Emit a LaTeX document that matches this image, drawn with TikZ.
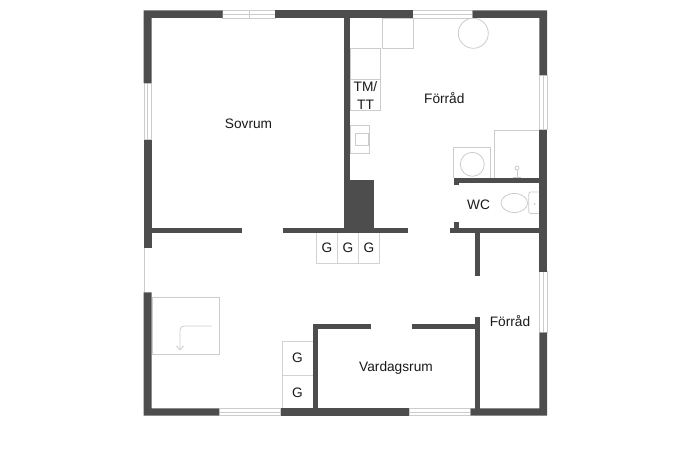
\documentclass[tikz,border=0pt]{standalone}
\usepackage{fontspec}
\setmainfont{Liberation Sans}
\usetikzlibrary{arrows.meta}
\definecolor{wallc}{HTML}{4D4D4D}
\definecolor{fixc}{HTML}{CCCCCC}
\definecolor{glinec}{HTML}{D2D2D2}
\tikzset{
  wall/.style={fill=wallc,draw=none},
  fixture/.style={draw=fixc,line width=0.8pt,fill=none},
  thin fixture/.style={draw=glinec,line width=0.6pt,fill=none},
  winframe/.style={draw=fixc,line width=0.8pt,fill=white},
  label/.style={font=\fontsize{13.7pt}{15pt}\selectfont,text=black!90,inner sep=0pt,align=center},
}
\newcommand{\wallrect}[4]{\fill[wall] (#1,#2) rectangle (#3,#4);}
\begin{document}
\begin{tikzpicture}[x=1pt,y=-1pt]
\useasboundingbox (0,0) rectangle (690,460);
\fill[white] (0,0) rectangle (690,460);
% fixtures
\draw[fixture] (382.7,18) rectangle (413.3,48.3);
\draw[fixture] (350,48.3) rectangle (380.7,79.3);
\draw[fixture] (350,79.3) rectangle (380.7,110);
\draw[fixture] (350,125) rectangle (369.3,153.3);
\draw[fixture] (355.2,132.9) rectangle (368,145.8);
\draw[fixture] (473.3,33.3) circle (15);
\draw[fixture] (453.3,178) -- (453.3,147.7) -- (490.3,147.7) -- (490.3,178);
\draw[fixture] (472.3,164.3) circle (12);
\draw[fixture] (494.7,178) -- (494.7,130) -- (540,130);
\draw[fixture] (513,177) -- (521,177) (517,178) -- (517,170);
\draw[fixture] (517,168) circle (2);
\draw[fixture] (514.3,203) ellipse (13.3 and 9.5);
\draw[fixture,rounded corners=2pt] (539.3,192) -- (528.7,192) -- (528.7,213.5) -- (539.3,213.5);
\fill[fixc] (534.5,204) circle (1);
\draw[thin fixture] (316.7,232) rectangle (337.7,263.3);
\draw[thin fixture] (337.7,232) rectangle (358.3,263.3);
\draw[thin fixture] (358.3,232) rectangle (379.3,263.3);
\draw[thin fixture] (282.3,341.7) rectangle (313,375);
\draw[thin fixture] (282.3,375) rectangle (313,408.3);
\draw[fixture] (152,297.3) rectangle (219,354.3);
\draw[fixture,rounded corners=4pt,-{Straight Barb[length=4pt,width=7pt]}] (211.7,326) -- (180,326) -- (180,350.5);
% windows and opening
\draw[winframe] (222.7,10.5) rectangle (275,18);
\draw[fixture] (222.7,14.2) -- (275,14.2) (249,10.5) -- (249,18);
\draw[winframe] (412.7,10.5) rectangle (472.7,18);
\draw[fixture] (412.7,14.2) -- (472.7,14.2);
\draw[winframe] (144,83) rectangle (151.7,139.5);
\draw[fixture] (147.8,83) -- (147.8,139.5);
\draw[winframe] (539.5,75) rectangle (547,129.5);
\draw[fixture] (543.2,75) -- (543.2,129.5);
\draw[winframe] (539.5,271.7) rectangle (547,332.7);
\draw[fixture] (543.2,271.7) -- (543.2,332.7);
\draw[winframe] (219,408.3) rectangle (280.7,415.5);
\draw[fixture] (219,412) -- (280.7,412);
\draw[winframe] (409,408.3) rectangle (470.7,415.7);
\draw[fixture] (409,412) -- (470.7,412);
\draw[fixture] (144,248) -- (144,292.3);
% outer walls
\fill[wall] (143.7,10.3) -- (222.7,10.3) -- (222.7,18) -- (151.7,18) -- (151.7,83) -- (143.7,83) -- cycle;
\wallrect{275}{10.3}{412.7}{18}
\fill[wall] (472.7,10.3) -- (547,10.3) -- (547,75) -- (539.3,75) -- (539.3,18) -- (472.7,18) -- cycle;
\wallrect{143.7}{139.5}{151.7}{248}
\fill[wall] (143.7,292.3) -- (151.7,292.3) -- (151.7,408.3) -- (219,408.3) -- (219,415.7) -- (143.7,415.7) -- cycle;
\wallrect{539.3}{129.5}{547}{271.7}
\fill[wall] (539.3,332.7) -- (547,332.7) -- (547,415.7) -- (470.7,415.7) -- (470.7,408.3) -- (539.3,408.3) -- cycle;
\wallrect{280.7}{408.3}{409}{415.7}
% inner walls
\wallrect{344.4}{18}{350}{228}
\wallrect{344.4}{180}{374.3}{228}
\wallrect{151.7}{227.5}{241.7}{232.7}
\wallrect{282.7}{227.5}{408}{232.7}
\wallrect{450}{227.5}{539.5}{232.7}
\wallrect{453.7}{221.7}{458.7}{228}
\wallrect{453.7}{178.3}{539.5}{183.3}
\wallrect{453.7}{178.3}{458.7}{185}
\wallrect{475}{232}{480}{275.7}
\wallrect{312.7}{323.7}{370.7}{329}
\wallrect{412.3}{323.7}{475}{329}
\wallrect{312.7}{323.7}{317.7}{408.5}
\wallrect{475}{317}{480}{408.5}
% labels
\node[label] (sovrum) at (248.5,123.5) {Sovrum};
\node[label] (forrad1) at (444.3,98.5) {Förråd};
\node[label] (forrad2) at (510,321.5) {Förråd};
\node[label] (vardagsrum) at (396,367.5) {Vardagsrum};
\node[label] (wc) at (478.5,204.5) {WC};
\node[label,text width=30pt,font=\fontsize{13.7pt}{17.5pt}\selectfont] (tmtt) at (365.5,95.5) {TM/\\TT};
\node[label] (g1) at (327,248) {G};
\node[label] (g2) at (348,248) {G};
\node[label] (g3) at (369,248) {G};
\node[label] (g4) at (297.5,358) {G};
\node[label] (g5) at (297.5,392.5) {G};
\end{tikzpicture}
\end{document}
